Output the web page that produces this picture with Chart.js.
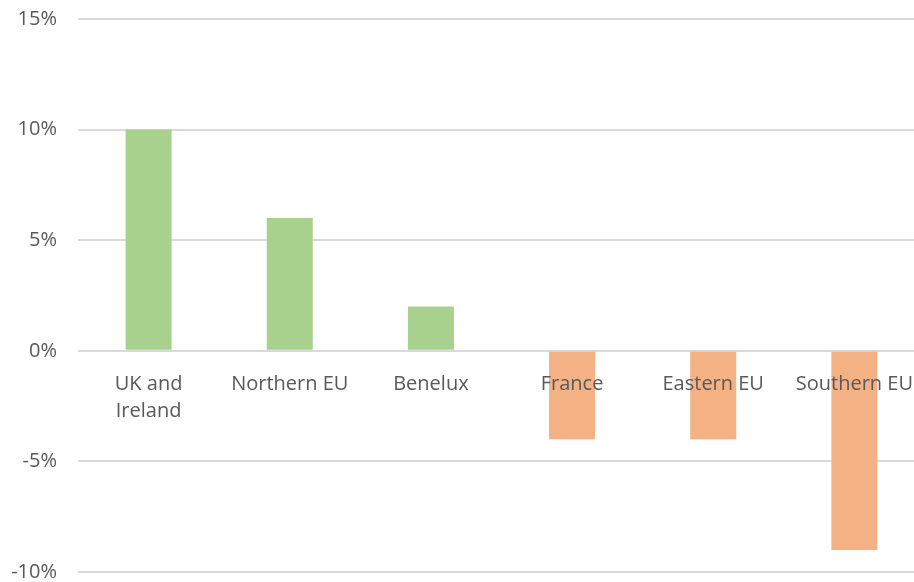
<!DOCTYPE html>
<html>
<head>
<meta charset="utf-8">
<script src="https://cdn.jsdelivr.net/npm/chart.js@4"></script>
<style>
  html, body { margin: 0; padding: 0; background: #fff; overflow: hidden; }
  /* the original is cropped a little on the right, so the canvas runs past the frame */
  #wrap { width: 914px; height: 582px; overflow: hidden; }
</style>
</head>
<body>
<div id="wrap"><canvas id="regionChart" width="925" height="582"></canvas></div>
<script>
// ===== DATA =====
const regions = [['UK and', 'Ireland'], 'Northern EU', 'Benelux', 'France', 'Eastern EU', 'Southern EU'];
const changePct = [10, 6, 2, -4, -4, -9];
const yTicks = [-10, -5, 0, 5, 10, 15];

const GREEN = '#A9D18E';
const ORANGE = '#F4B183';

// ===== CHART =====
const ctx = document.getElementById('regionChart');
new Chart(ctx, {
  type: 'bar',
  data: {
    labels: regions,
    datasets: [{
      data: changePct,
      backgroundColor: changePct.map(v => v >= 0 ? GREEN : ORANGE),
      categoryPercentage: 0.326,
      barPercentage: 1
    }]
  },
  options: {
    responsive: false,
    animation: false,
    layout: { padding: { top: 19, right: 0, bottom: 10, left: 0 } },
    plugins: { legend: { display: false }, tooltip: { enabled: false } },
    scales: {
      x: {
        position: { y: 0 },
        afterFit: (s) => { s.height = 0; s.paddingTop = 0; s.paddingBottom = 0; },
        grid: { display: false },
        border: { display: false },
        ticks: {
          z: 1,
          color: '#595959',
          font: { family: 'Open Sans', size: 20, lineHeight: 1.35 },
          padding: 12,
          maxRotation: 0,
          autoSkip: false
        }
      },
      y: {
        min: yTicks[0],
        max: yTicks[yTicks.length - 1],
        afterBuildTicks: (s) => { s.ticks = yTicks.map(v => ({ value: v })); },
        afterFit: (s) => { s.width = 78; s.paddingTop = 0; s.paddingBottom = 0; },
        grid: { color: '#D9D9D9', lineWidth: 2, drawTicks: false },
        border: { display: false },
        ticks: {
          color: '#595959',
          font: { family: 'Open Sans', size: 20 },
          padding: 21,
          callback: (v) => v + '%'
        }
      }
    }
  }
});
</script>
</body>
</html>
